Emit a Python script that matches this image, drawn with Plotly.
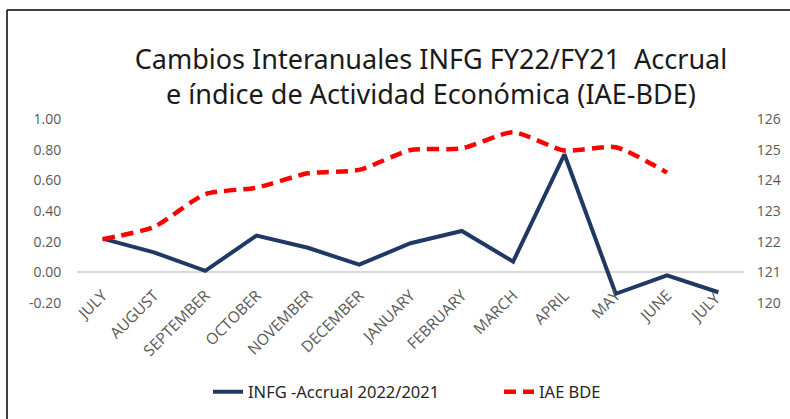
import plotly.graph_objects as go

months = ["JULY", "AUGUST", "SEPTEMBER", "OCTOBER", "NOVEMBER", "DECEMBER",
          "JANUARY", "FEBRUARY", "MARCH", "APRIL", "MAY", "JUNE", "JULY "]
infg = [0.22, 0.13, 0.01, 0.24, 0.16, 0.05, 0.19, 0.27, 0.07, 0.77, -0.14, -0.02, -0.13]
iae = [122.08, 122.48, 123.55, 123.76, 124.23, 124.34, 124.99, 125.04, 125.57, 124.97, 125.08, 124.25, None]

left_vals = [-0.2, 0.0, 0.2, 0.4, 0.6, 0.8, 1.0]
left_text = ["-0.20", "0.00", "0.20", "0.40", "0.60", "0.80", "1.00"]
right_vals = [120, 121, 122, 123, 124, 125, 126]

W, H = 790, 419
L, R, T, B = 77, 744, 119, 303

fig = go.Figure()
fig.add_trace(go.Scatter(x=months, y=infg, mode="lines", name="INFG -Accrual 2022/2021",
                         line=dict(color="#1F3864", width=4), yaxis="y"))
fig.add_trace(go.Scatter(x=months, y=iae, mode="lines", name="IAE BDE",
                         line=dict(color="#FF0000", width=4.5, dash="12px,7px", shape="spline", smoothing=0.6),
                         yaxis="y2"))

tick_font = dict(family="Open Sans", size=14, color="#595959")
cat_font = dict(family="Open Sans", size=15.5, color="#595959")

pw = R - L
ph = B - T
x0 = (7 - L) / pw
y0 = (B - 10) / ph

fig.update_layout(
    width=W, height=H,
    margin=dict(l=L, r=W - R, t=T, b=H - B, autoexpand=False),
    paper_bgcolor="white", plot_bgcolor="white",
    title=dict(text="Cambios Interanuales INFG FY22/FY21  Accrual<br>e índice de Actividad Económica (IAE-BDE)",
               x=431 / W, xanchor="center", y=1 - 69 / H, yanchor="middle",
               font=dict(family="Noto Sans", size=27, color="#1a1a1a")),
    xaxis=dict(anchor="free", position=0.2 / 1.2, tickangle=-45, tickfont=cat_font,
               range=[-0.5, 12.5], automargin=False,
               showgrid=False, showline=False, zeroline=False,
               ticks="outside", ticklen=7, tickcolor="rgba(0,0,0,0)"),
    yaxis=dict(range=[-0.2, 1.0], tickvals=left_vals, ticktext=left_text, tickfont=tick_font,
               automargin=False,
               showgrid=False, showline=False, zeroline=True, zerolinecolor="#D9D9D9", zerolinewidth=1.5,
               ticks="outside", ticklen=12, tickcolor="rgba(0,0,0,0)"),
    yaxis2=dict(range=[120, 126], tickvals=right_vals, tickfont=tick_font, overlaying="y", side="right",
                automargin=False,
                showgrid=False, showline=False, zeroline=False,
                ticks="outside", ticklen=9, tickcolor="rgba(0,0,0,0)"),
    legend=dict(orientation="h", x=(208 - L) / pw, xanchor="left", y=(B - 392) / ph, yanchor="middle",
                entrywidth=246, entrywidthmode="pixels",
                font=dict(family="Noto Sans", size=16.5, color="#262626")),
    showlegend=True,
    shapes=[
        dict(type="line", xref="paper", yref="paper", x0=x0, x1=(W + 20 - L) / pw, y0=y0, y1=y0,
             line=dict(color="black", width=1.5)),
        dict(type="line", xref="paper", yref="paper", x0=x0, x1=x0, y0=y0, y1=(B - H - 20) / ph,
             line=dict(color="black", width=1.5)),
    ],
)

fig.write_html("out.html", config={"displayModeBar": False},
               post_script="document.body.style.margin='0';")
